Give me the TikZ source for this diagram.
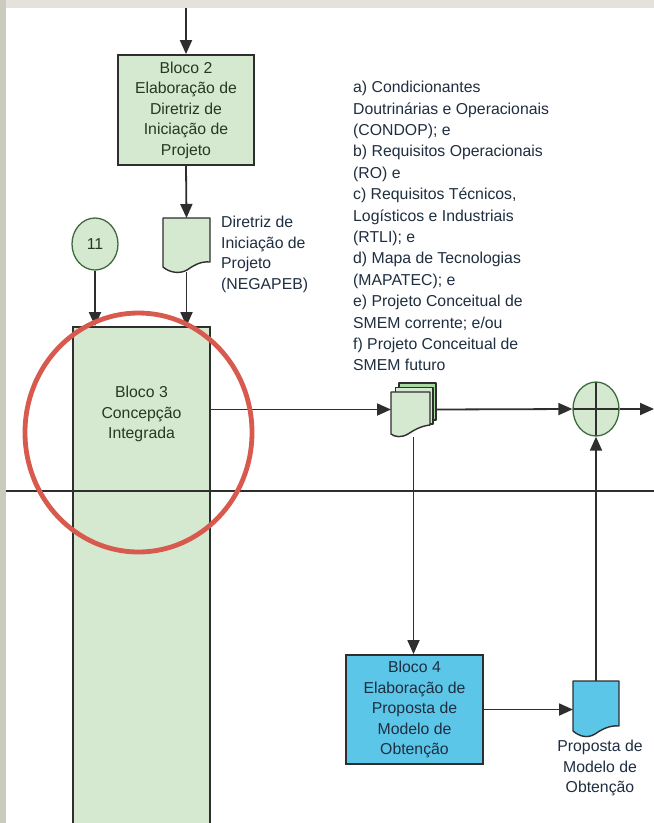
\documentclass[tikz,border=0pt]{standalone}
\usepackage{fontspec}
\setmainfont{Liberation Sans}
\usetikzlibrary{arrows.meta,shapes.geometric}
\definecolor{blockgreen}{HTML}{D5E8D0}
\definecolor{backgreen}{HTML}{A9D9A3}
\definecolor{blockblue}{HTML}{5CC6E8}
\definecolor{edgegray}{HTML}{2E2E2E}
\definecolor{ovaledge}{HTML}{3E6B3E}
\definecolor{ringred}{HTML}{D85A4E}
\definecolor{txtgreen}{HTML}{243A24}
\definecolor{txtblue}{HTML}{1F2E40}
\definecolor{stripgray}{HTML}{C9CBBC}
\definecolor{topgray}{HTML}{E4E2DA}

\begin{document}
\begin{tikzpicture}[x=1pt,y=-1pt,
  every node/.style={font=\fontsize{15.8}{20.5}\selectfont},
  block/.style={draw=edgegray, line width=1.8pt, inner sep=0pt, align=center},
  greenblock/.style={block, fill=blockgreen, text=txtgreen},
  blueblock/.style={block, fill=blockblue, text=txtblue},
  oval/.style={ellipse, draw=ovaledge, line width=1.3pt, fill=blockgreen, inner sep=0pt},
  docarea/.style={inner sep=0pt, outer sep=0pt},
  docline/.style={draw=edgegray, line width=1.4pt, line join=round},
  sidetext/.style={inner sep=0pt, align=left, text=txtblue},
  conn/.style={draw=edgegray, line width=1.8pt, -{Triangle[length=14pt,width=12pt]}},
  lane/.style={draw=edgegray, line width=1.6pt}
]
\useasboundingbox (0,0) rectangle (654,823);

% page background
\fill[topgray] (0,0) rectangle (654,823);
\fill[stripgray] (0,0) rectangle (6,823);
\fill[white] (6,8) rectangle (654,823);

% ---------- nodes ----------
\node[greenblock, minimum width=136pt, minimum height=110pt] (b2) at (186,110)
  {Bloco 2\\Elaboração de\\Diretriz de\\Iniciação de\\Projeto};

\node[docarea, minimum width=47pt, minimum height=54pt] (d1) at (186.5,245) {};
\node[sidetext, anchor=north west] (d1label) at (221,216)
  {Diretriz de\\Iniciação de\\Projeto\\(NEGAPEB)};

\node[oval, minimum width=46pt, minimum height=52pt, text=txtgreen] (c11) at (95,244) {11};

\node[block, fill=blockgreen, minimum width=137pt, minimum height=503pt] (b3) at (141.5,578.5) {};
\node[inner sep=0pt, align=center, text=txtgreen] (b3label) at (141.5,414)
  {Bloco 3\\Concepção\\Integrada};

\node[sidetext, anchor=north west, font=\fontsize{15.8}{21.4}\selectfont] (inputs) at (353,81)
  {a) Condicionantes\\Doutrinárias e Operacionais\\(CONDOP); e\\b) Requisitos Operacionais\\(RO) e\\c) Requisitos Técnicos,\\Logísticos e Industriais\\(RTLI); e\\d) Mapa de Tecnologias\\(MAPATEC); e\\e) Projeto Conceitual de\\SMEM corrente; e/ou\\f) Projeto Conceitual de\\SMEM futuro};

\node[docarea, minimum width=45pt, minimum height=55pt] (md) at (413.5,409.5) {};

\node[oval, minimum width=46pt, minimum height=54pt,
  path picture={\draw[edgegray, line width=1.4pt]
    (path picture bounding box.north) -- (path picture bounding box.south)
    (path picture bounding box.west) -- (path picture bounding box.east);}] (cp) at (596,409) {};

\node[blueblock, minimum width=137pt, minimum height=109pt] (b4) at (414.5,709.5)
  {Bloco 4\\Elaboração de\\Proposta de\\Modelo de\\Obtenção};

\node[docarea, minimum width=46pt, minimum height=56pt] (d2) at (596,709) {};
\node[inner sep=0pt, align=center, text=txtblue, anchor=north] (d2label) at (600,740)
  {Proposta de\\Modelo de\\Obtenção};

\coordinate (entry) at (186,8);
\coordinate (exit) at (654,409);
\coordinate (laneL) at (6,491);
\coordinate (laneR) at (654,491);

% ---------- connectors ----------
\draw[conn] (entry) -- (b2.north);
\draw[conn] (b2.south) -- (d1.north);
\draw[conn] (d1.south) -- (d1.south |- b3.north);
\draw[conn] (c11.south) -- (c11.south |- b3.north);
\draw[conn] (md.west -| b3.east) -- (md.west);
\draw[conn] (md.east) -- (cp.west);
\draw[conn] (cp.east) -- (exit);
\draw[conn] (md.south) -- (md.south |- b4.north);
\draw[conn] (b4.east) -- (b4.east -| d2.west);
\draw[conn] (d2.north) -- (cp.south);

% ---------- document shapes ----------
% single document: Diretriz de Iniciação de Projeto
\draw[docline, fill=blockgreen]
  (163,218) -- (210,218) -- (210,262)
  .. controls (200,261) and (193,266) .. (187,270)
  .. controls (180,274) and (170,273) .. (163,267) -- cycle;

% stacked documents
\draw[docline, fill=backgreen] (399,383) -- (436,383) -- (436,420) -- (399,420) -- cycle;
\draw[docline, fill=blockgreen] (395.5,387.5) -- (433,387.5) -- (433,424) -- (395.5,424) -- cycle;
\draw[docline, fill=blockgreen]
  (391,392) -- (430,392) -- (430,425)
  .. controls (421,426) and (414,430) .. (408,434)
  .. controls (401,438) and (395,437) .. (391,434) -- cycle;

% single document: Proposta de Modelo de Obtenção
\draw[docline, fill=blockblue]
  (573,681) -- (619,681) -- (619,726)
  .. controls (609,725) and (601,730) .. (595,734)
  .. controls (587,739) and (579,736) .. (573,731) -- cycle;

% swimlane divider
\draw[lane] (laneL) -- (laneR);

% highlight ring
\node[ellipse, draw=ringred, line width=4.8pt, inner sep=0pt,
  minimum width=227pt, minimum height=239pt] (ring) at (138.5,432.5) {};
\end{tikzpicture}
\end{document}
